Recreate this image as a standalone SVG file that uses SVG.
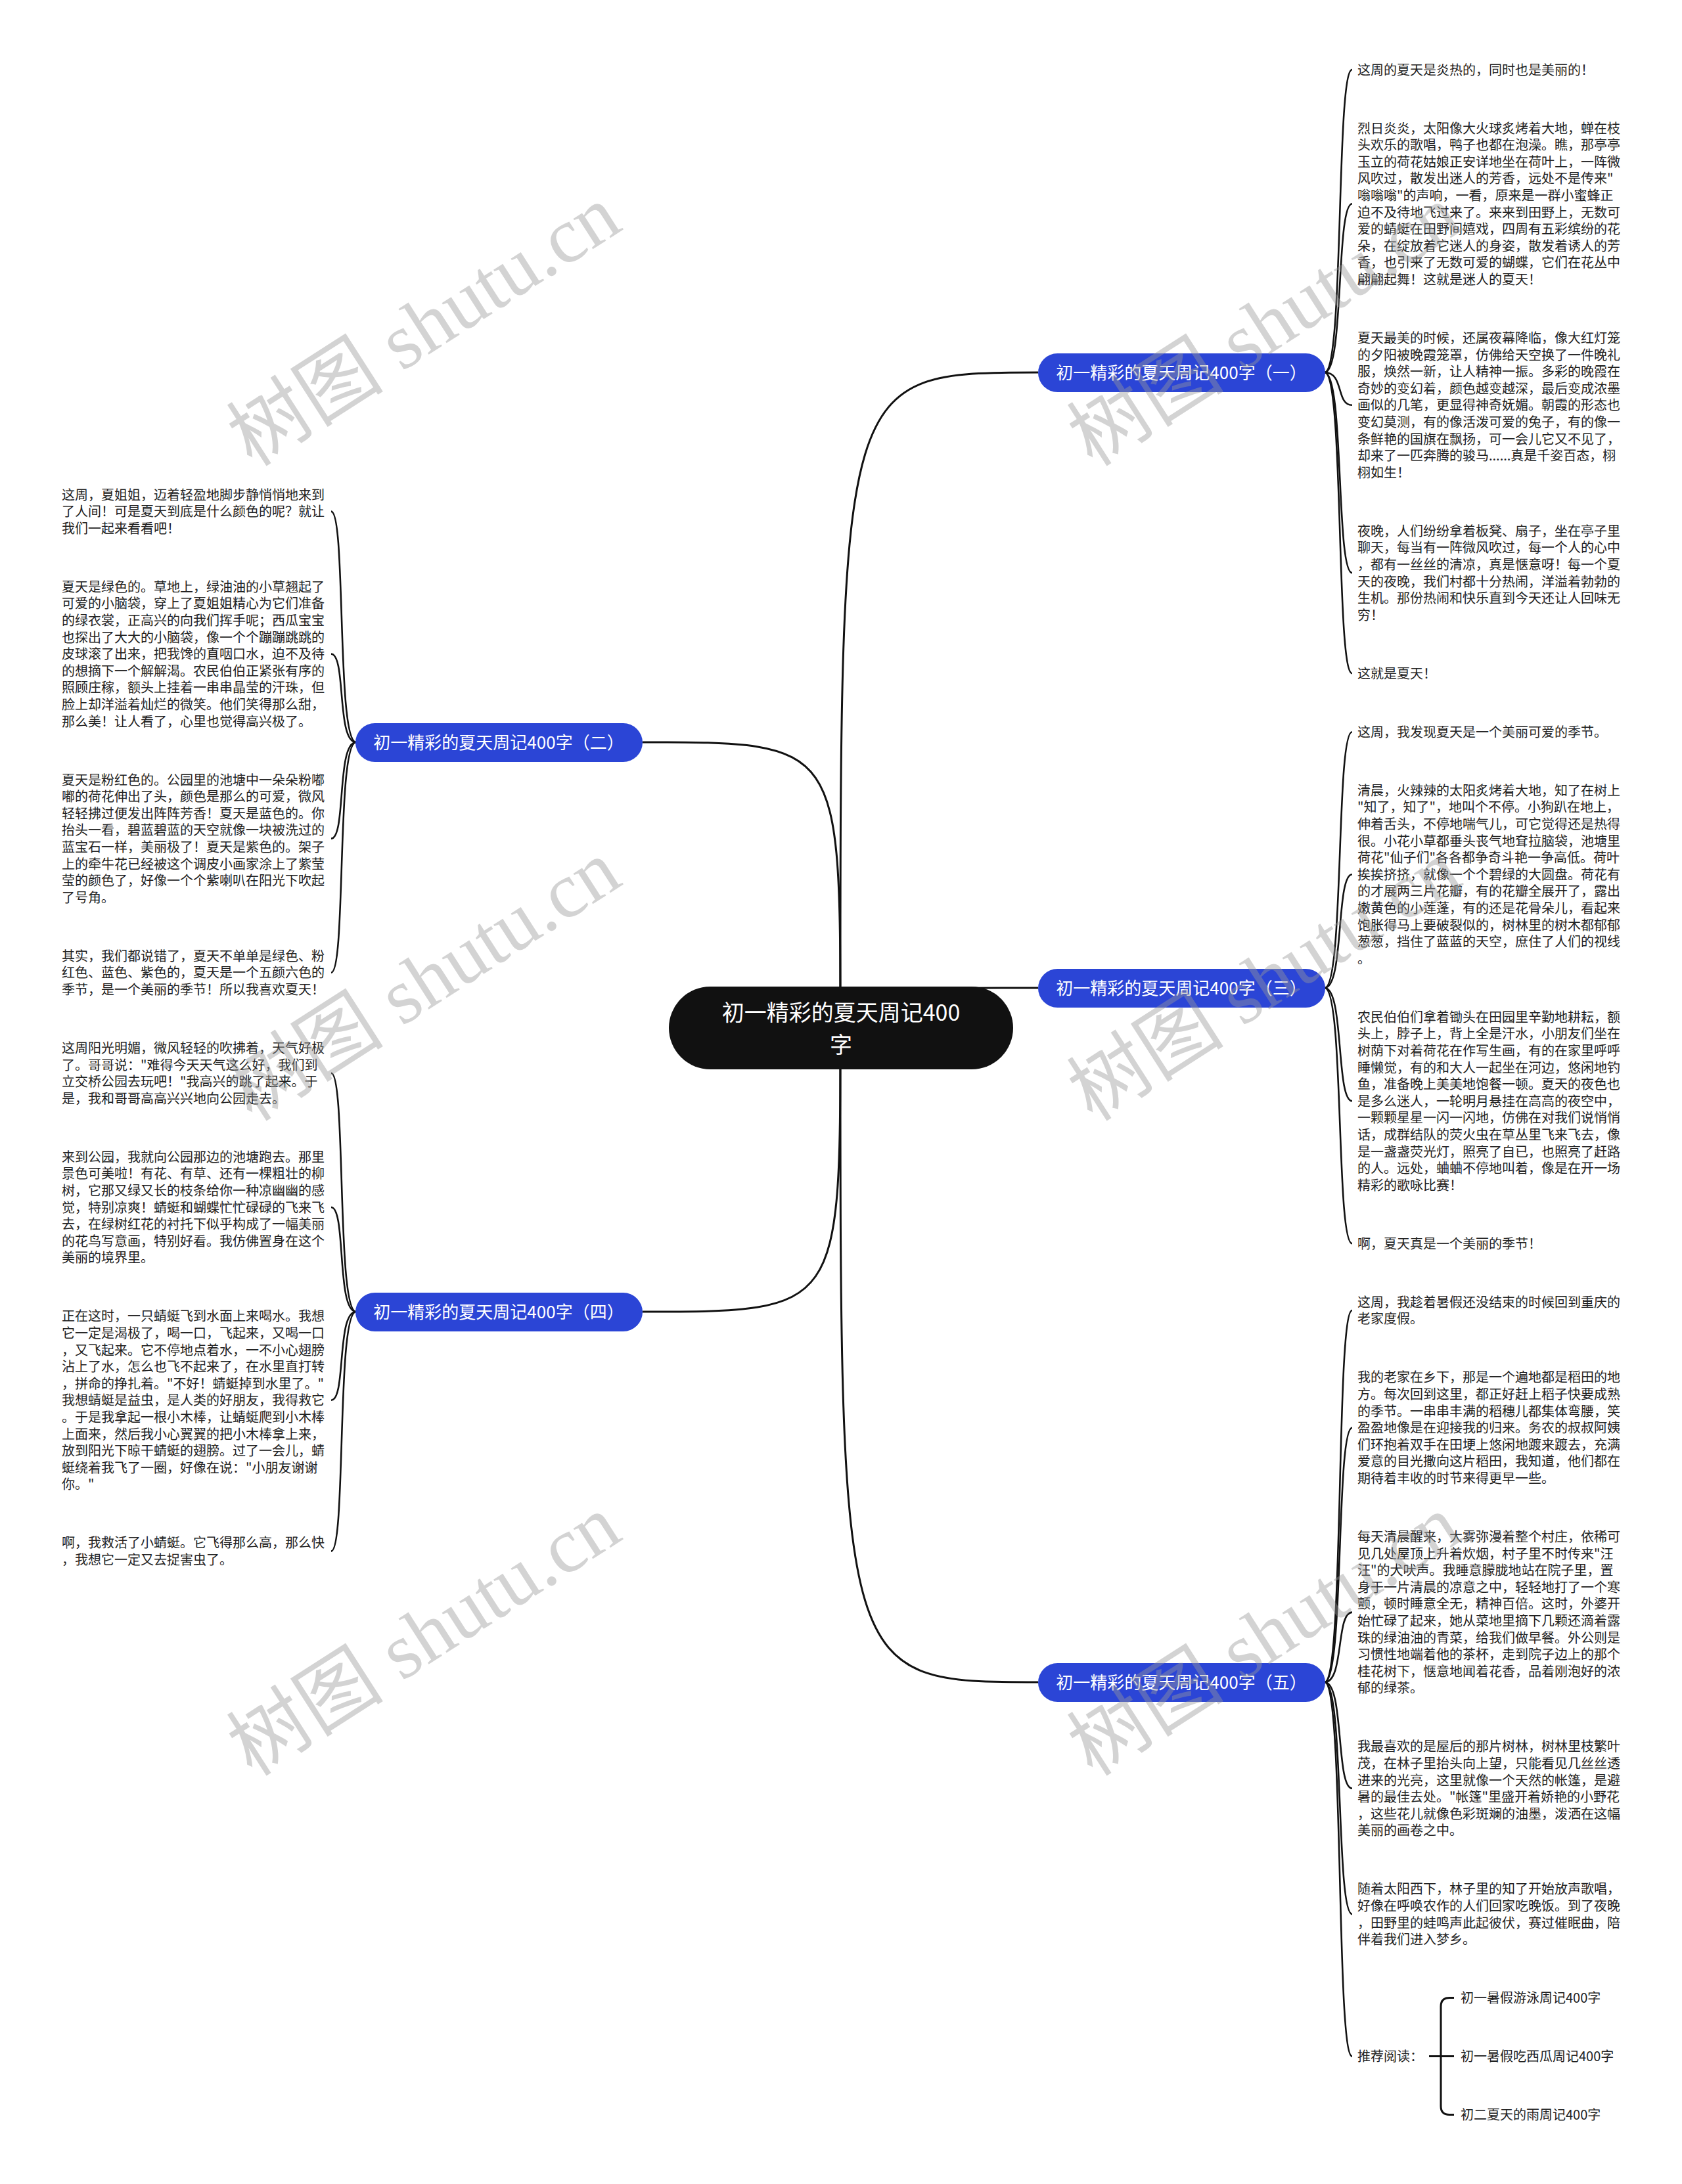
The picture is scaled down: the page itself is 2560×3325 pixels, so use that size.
<svg xmlns="http://www.w3.org/2000/svg" width="2560" height="3325" viewBox="0 0 2560 3325">
<style>
.t{font-family:"Noto Sans CJK SC","Noto Sans",sans-serif;font-size:20px;fill:#222}
.bn{fill:#2b45d6}
.bt{font-family:"Noto Sans CJK SC","Noto Sans",sans-serif;font-size:26px;fill:#fff;text-anchor:middle}
.ct{font-family:"Noto Sans CJK SC","Noto Sans",sans-serif;font-size:34px;fill:#fff;text-anchor:middle}
.ln{fill:none;stroke:#111;stroke-width:3}
.cl{fill:none;stroke:#111;stroke-width:2.6}
.wm{font-family:"Liberation Serif","Noto Sans CJK SC",serif;font-size:120px;fill:#999;opacity:0.42}
</style>
<rect width="2560" height="3325" fill="#fff"/>
<g id="connectors">
<path class="ln" d="M1279 1565 C1279 567 1279 567 1580 567"/>
<path class="ln" d="M1279 1565 C1279 1504 1279 1504 1580 1504"/>
<path class="ln" d="M1279 1565 C1279 2561 1279 2561 1580 2561"/>
<path class="ln" d="M1279 1565 C1279 1130 1279 1130 978 1130"/>
<path class="ln" d="M1279 1565 C1279 1997 1279 1997 978 1997"/>
<path class="cl" d="M2016 567 C2046 567 2033 106 2058 106"/>
<path class="cl" d="M2016 567 C2046 567 2033 310.2 2058 310.2"/>
<path class="cl" d="M2016 567 C2046 567 2033 616.8 2058 616.8"/>
<path class="cl" d="M2016 567 C2046 567 2033 872.2 2058 872.2"/>
<path class="cl" d="M2016 567 C2046 567 2033 1025.2 2058 1025.2"/>
<path class="cl" d="M2016 1504 C2046 1504 2033 1114.2 2058 1114.2"/>
<path class="cl" d="M2016 1504 C2046 1504 2033 1331.2 2058 1331.2"/>
<path class="cl" d="M2016 1504 C2046 1504 2033 1676.2 2058 1676.2"/>
<path class="cl" d="M2016 1504 C2046 1504 2033 1893.2 2058 1893.2"/>
<path class="cl" d="M2016 2561 C2046 2561 2033 1995 2058 1995"/>
<path class="cl" d="M2016 2561 C2046 2561 2033 2173.6 2058 2173.6"/>
<path class="cl" d="M2016 2561 C2046 2561 2033 2454.6 2058 2454.6"/>
<path class="cl" d="M2016 2561 C2046 2561 2033 2722.8 2058 2722.8"/>
<path class="cl" d="M2016 2561 C2046 2561 2033 2914.2 2058 2914.2"/>
<path class="cl" d="M2016 2561 C2046 2561 2033 3130.6 2058 3130.6"/>
<path class="cl" d="M542 1130 C512 1130 527 778.6 504 778.6"/>
<path class="cl" d="M542 1130 C512 1130 527 995.6 504 995.6"/>
<path class="cl" d="M542 1130 C512 1130 527 1276.6 504 1276.6"/>
<path class="cl" d="M542 1130 C512 1130 527 1480.8 504 1480.8"/>
<path class="cl" d="M542 1997 C512 1997 527 1633.8 504 1633.8"/>
<path class="cl" d="M542 1997 C512 1997 527 1838 504 1838"/>
<path class="cl" d="M542 1997 C512 1997 527 2131.8 504 2131.8"/>
<path class="cl" d="M542 1997 C512 1997 527 2361.6 504 2361.6"/>
<path class="ln" d="M2175 3130.6 H2213"/>
<path class="ln" d="M2193 3130.6 V3054.6 Q2193 3041.6 2206 3041.6 H2213"/>
<path class="ln" d="M2193 3130.6 V3206.6 Q2193 3219.6 2206 3219.6 H2213"/>
</g>
<g id="root">
<rect x="1018" y="1502" width="524" height="126" rx="63" fill="#111"/>
<text class="ct" x="1280" y="1554">初一精彩的夏天周记400</text>
<text class="ct" x="1280" y="1603">字</text>
</g>
<g id="b1"><rect class="bn" x="1580" y="538" width="437" height="59" rx="29.5"/><text class="bt" x="1798" y="577">初一精彩的夏天周记400字（一）</text></g>
<g id="b3"><rect class="bn" x="1580" y="1475" width="437" height="59" rx="29.5"/><text class="bt" x="1798" y="1514">初一精彩的夏天周记400字（三）</text></g>
<g id="b5"><rect class="bn" x="1580" y="2532" width="437" height="59" rx="29.5"/><text class="bt" x="1798" y="2571">初一精彩的夏天周记400字（五）</text></g>
<g id="b2"><rect class="bn" x="541" y="1101" width="437" height="59" rx="29.5"/><text class="bt" x="759" y="1140">初一精彩的夏天周记400字（二）</text></g>
<g id="b4"><rect class="bn" x="541" y="1968" width="437" height="59" rx="29.5"/><text class="bt" x="759" y="2007">初一精彩的夏天周记400字（四）</text></g>

<g id="b1-p1"><text class="t" x="2066" y="113.6">这周的夏天是炎热的，同时也是美丽的！</text></g>
<g id="b1-p2"><text class="t" x="2066" y="202.6"><tspan x="2066" dy="0">烈日炎炎，太阳像大火球炙烤着大地，蝉在枝</tspan><tspan x="2066" dy="25.6">头欢乐的歌唱，鸭子也都在泡澡。瞧，那亭亭</tspan><tspan x="2066" dy="25.6">玉立的荷花姑娘正安详地坐在荷叶上，一阵微</tspan><tspan x="2066" dy="25.6">风吹过，散发出迷人的芳香，远处不是传来"</tspan><tspan x="2066" dy="25.6">嗡嗡嗡"的声响，一看，原来是一群小蜜蜂正</tspan><tspan x="2066" dy="25.6">迫不及待地飞过来了。来来到田野上，无数可</tspan><tspan x="2066" dy="25.6">爱的蜻蜓在田野间嬉戏，四周有五彩缤纷的花</tspan><tspan x="2066" dy="25.6">朵，在绽放着它迷人的身姿，散发着诱人的芳</tspan><tspan x="2066" dy="25.6">香，也引来了无数可爱的蝴蝶，它们在花丛中</tspan><tspan x="2066" dy="25.6">翩翩起舞！这就是迷人的夏天！</tspan></text></g>
<g id="b1-p3"><text class="t" x="2066" y="522"><tspan x="2066" dy="0">夏天最美的时候，还属夜幕降临，像大红灯笼</tspan><tspan x="2066" dy="25.6">的夕阳被晚霞笼罩，仿佛给天空换了一件晚礼</tspan><tspan x="2066" dy="25.6">服，焕然一新，让人精神一振。多彩的晚霞在</tspan><tspan x="2066" dy="25.6">奇妙的变幻着，颜色越变越深，最后变成浓墨</tspan><tspan x="2066" dy="25.6">画似的几笔，更显得神奇妩媚。朝霞的形态也</tspan><tspan x="2066" dy="25.6">变幻莫测，有的像活泼可爱的兔子，有的像一</tspan><tspan x="2066" dy="25.6">条鲜艳的国旗在飘扬，可一会儿它又不见了，</tspan><tspan x="2066" dy="25.6">却来了一匹奔腾的骏马......真是千姿百态，栩</tspan><tspan x="2066" dy="25.6">栩如生！</tspan></text></g>
<g id="b1-p4"><text class="t" x="2066" y="815.8"><tspan x="2066" dy="0">夜晚，人们纷纷拿着板凳、扇子，坐在亭子里</tspan><tspan x="2066" dy="25.6">聊天，每当有一阵微风吹过，每一个人的心中</tspan><tspan x="2066" dy="25.6">，都有一丝丝的清凉，真是惬意呀！每一个夏</tspan><tspan x="2066" dy="25.6">天的夜晚，我们村都十分热闹，洋溢着勃勃的</tspan><tspan x="2066" dy="25.6">生机。那份热闹和快乐直到今天还让人回味无</tspan><tspan x="2066" dy="25.6">穷！</tspan></text></g>
<g id="b1-p5"><text class="t" x="2066" y="1032.8">这就是夏天！</text></g>

<g id="b3-p1"><text class="t" x="2066" y="1121.8">这周，我发现夏天是一个美丽可爱的季节。</text></g>
<g id="b3-p2"><text class="t" x="2066" y="1210.8"><tspan x="2066" dy="0">清晨，火辣辣的太阳炙烤着大地，知了在树上</tspan><tspan x="2066" dy="25.6">"知了，知了"，地叫个不停。小狗趴在地上，</tspan><tspan x="2066" dy="25.6">伸着舌头，不停地喘气儿，可它觉得还是热得</tspan><tspan x="2066" dy="25.6">很。小花小草都垂头丧气地耷拉脑袋，池塘里</tspan><tspan x="2066" dy="25.6">荷花"仙子们"各各都争奇斗艳一争高低。荷叶</tspan><tspan x="2066" dy="25.6">挨挨挤挤，就像一个个碧绿的大圆盘。荷花有</tspan><tspan x="2066" dy="25.6">的才展两三片花瓣，有的花瓣全展开了，露出</tspan><tspan x="2066" dy="25.6">嫩黄色的小莲蓬，有的还是花骨朵儿，看起来</tspan><tspan x="2066" dy="25.6">饱胀得马上要破裂似的，树林里的树木都郁郁</tspan><tspan x="2066" dy="25.6">葱葱，挡住了蓝蓝的天空，庶住了人们的视线</tspan><tspan x="2066" dy="25.6">。</tspan></text></g>
<g id="b3-p3"><text class="t" x="2066" y="1555.8"><tspan x="2066" dy="0">农民伯伯们拿着锄头在田园里辛勤地耕耘，额</tspan><tspan x="2066" dy="25.6">头上，脖子上，背上全是汗水，小朋友们坐在</tspan><tspan x="2066" dy="25.6">树荫下对着荷花在作写生画，有的在家里呼呼</tspan><tspan x="2066" dy="25.6">睡懒觉，有的和大人一起坐在河边，悠闲地钓</tspan><tspan x="2066" dy="25.6">鱼，准备晚上美美地饱餐一顿。夏天的夜色也</tspan><tspan x="2066" dy="25.6">是多么迷人，一轮明月悬挂在高高的夜空中，</tspan><tspan x="2066" dy="25.6">一颗颗星星一闪一闪地，仿佛在对我们说悄悄</tspan><tspan x="2066" dy="25.6">话，成群结队的荧火虫在草丛里飞来飞去，像</tspan><tspan x="2066" dy="25.6">是一盏盏荧光灯，照亮了自已，也照亮了赶路</tspan><tspan x="2066" dy="25.6">的人。远处，蛐蛐不停地叫着，像是在开一场</tspan><tspan x="2066" dy="25.6">精彩的歌咏比赛！</tspan></text></g>
<g id="b3-p4"><text class="t" x="2066" y="1900.8">啊，夏天真是一个美丽的季节！</text></g>

<g id="b5-p1"><text class="t" x="2066" y="1989.8"><tspan x="2066" dy="0">这周，我趁着暑假还没结束的时候回到重庆的</tspan><tspan x="2066" dy="25.6">老家度假。</tspan></text></g>
<g id="b5-p2"><text class="t" x="2066" y="2104.4"><tspan x="2066" dy="0">我的老家在乡下，那是一个遍地都是稻田的地</tspan><tspan x="2066" dy="25.6">方。每次回到这里，都正好赶上稻子快要成熟</tspan><tspan x="2066" dy="25.6">的季节。一串串丰满的稻穗儿都集体弯腰，笑</tspan><tspan x="2066" dy="25.6">盈盈地像是在迎接我的归来。务农的叔叔阿姨</tspan><tspan x="2066" dy="25.6">们环抱着双手在田埂上悠闲地踱来踱去，充满</tspan><tspan x="2066" dy="25.6">爱意的目光撒向这片稻田，我知道，他们都在</tspan><tspan x="2066" dy="25.6">期待着丰收的时节来得更早一些。</tspan></text></g>
<g id="b5-p3"><text class="t" x="2066" y="2347"><tspan x="2066" dy="0">每天清晨醒来，大雾弥漫着整个村庄，依稀可</tspan><tspan x="2066" dy="25.6">见几处屋顶上升着炊烟，村子里不时传来"汪</tspan><tspan x="2066" dy="25.6">汪"的犬吠声。我睡意朦胧地站在院子里，置</tspan><tspan x="2066" dy="25.6">身于一片清晨的凉意之中，轻轻地打了一个寒</tspan><tspan x="2066" dy="25.6">颤，顿时睡意全无，精神百倍。这时，外婆开</tspan><tspan x="2066" dy="25.6">始忙碌了起来，她从菜地里摘下几颗还滴着露</tspan><tspan x="2066" dy="25.6">珠的绿油油的青菜，给我们做早餐。外公则是</tspan><tspan x="2066" dy="25.6">习惯性地端着他的茶杯，走到院子边上的那个</tspan><tspan x="2066" dy="25.6">桂花树下，惬意地闻着花香，品着刚泡好的浓</tspan><tspan x="2066" dy="25.6">郁的绿茶。</tspan></text></g>
<g id="b5-p4"><text class="t" x="2066" y="2666.4"><tspan x="2066" dy="0">我最喜欢的是屋后的那片树林，树林里枝繁叶</tspan><tspan x="2066" dy="25.6">茂，在林子里抬头向上望，只能看见几丝丝透</tspan><tspan x="2066" dy="25.6">进来的光亮，这里就像一个天然的帐篷，是避</tspan><tspan x="2066" dy="25.6">暑的最佳去处。"帐篷"里盛开着娇艳的小野花</tspan><tspan x="2066" dy="25.6">，这些花儿就像色彩斑斓的油墨，泼洒在这幅</tspan><tspan x="2066" dy="25.6">美丽的画卷之中。</tspan></text></g>
<g id="b5-p5"><text class="t" x="2066" y="2883.4"><tspan x="2066" dy="0">随着太阳西下，林子里的知了开始放声歌唱，</tspan><tspan x="2066" dy="25.6">好像在呼唤农作的人们回家吃晚饭。到了夜晚</tspan><tspan x="2066" dy="25.6">，田野里的蛙鸣声此起彼伏，赛过催眠曲，陪</tspan><tspan x="2066" dy="25.6">伴着我们进入梦乡。</tspan></text></g>
<g id="b5-p6"><text class="t" x="2066" y="3138.2">推荐阅读：</text></g>
<g id="r1"><text class="t" x="2223" y="3049.2">初一暑假游泳周记400字</text></g>
<g id="r2"><text class="t" x="2223" y="3138.2">初一暑假吃西瓜周记400字</text></g>
<g id="r3"><text class="t" x="2223" y="3227.2">初二夏天的雨周记400字</text></g>

<g id="b2-p1"><text class="t" x="94" y="760.6"><tspan x="94" dy="0">这周，夏姐姐，迈着轻盈地脚步静悄悄地来到</tspan><tspan x="94" dy="25.6">了人间！可是夏天到底是什么颜色的呢？就让</tspan><tspan x="94" dy="25.6">我们一起来看看吧！</tspan></text></g>
<g id="b2-p2"><text class="t" x="94" y="900.8"><tspan x="94" dy="0">夏天是绿色的。草地上，绿油油的小草翘起了</tspan><tspan x="94" dy="25.6">可爱的小脑袋，穿上了夏姐姐精心为它们准备</tspan><tspan x="94" dy="25.6">的绿衣裳，正高兴的向我们挥手呢；西瓜宝宝</tspan><tspan x="94" dy="25.6">也探出了大大的小脑袋，像一个个蹦蹦跳跳的</tspan><tspan x="94" dy="25.6">皮球滚了出来，把我馋的直咽口水，迫不及待</tspan><tspan x="94" dy="25.6">的想摘下一个解解渴。农民伯伯正紧张有序的</tspan><tspan x="94" dy="25.6">照顾庄稼，额头上挂着一串串晶莹的汗珠，但</tspan><tspan x="94" dy="25.6">脸上却洋溢着灿烂的微笑。他们笑得那么甜，</tspan><tspan x="94" dy="25.6">那么美！让人看了，心里也觉得高兴极了。</tspan></text></g>
<g id="b2-p3"><text class="t" x="94" y="1194.6"><tspan x="94" dy="0">夏天是粉红色的。公园里的池塘中一朵朵粉嘟</tspan><tspan x="94" dy="25.6">嘟的荷花伸出了头，颜色是那么的可爱，微风</tspan><tspan x="94" dy="25.6">轻轻拂过便发出阵阵芳香！夏天是蓝色的。你</tspan><tspan x="94" dy="25.6">抬头一看，碧蓝碧蓝的天空就像一块被洗过的</tspan><tspan x="94" dy="25.6">蓝宝石一样，美丽极了！夏天是紫色的。架子</tspan><tspan x="94" dy="25.6">上的牵牛花已经被这个调皮小画家涂上了紫莹</tspan><tspan x="94" dy="25.6">莹的颜色了，好像一个个紫喇叭在阳光下吹起</tspan><tspan x="94" dy="25.6">了号角。</tspan></text></g>
<g id="b2-p4"><text class="t" x="94" y="1462.8"><tspan x="94" dy="0">其实，我们都说错了，夏天不单单是绿色、粉</tspan><tspan x="94" dy="25.6">红色、蓝色、紫色的，夏天是一个五颜六色的</tspan><tspan x="94" dy="25.6">季节，是一个美丽的季节！所以我喜欢夏天！</tspan></text></g>

<g id="b4-p1"><text class="t" x="94" y="1603"><tspan x="94" dy="0">这周阳光明媚，微风轻轻的吹拂着，天气好极</tspan><tspan x="94" dy="25.6">了。哥哥说："难得今天天气这么好，我们到</tspan><tspan x="94" dy="25.6">立交桥公园去玩吧！"我高兴的跳了起来。于</tspan><tspan x="94" dy="25.6">是，我和哥哥高高兴兴地向公园走去。</tspan></text></g>
<g id="b4-p2"><text class="t" x="94" y="1768.8"><tspan x="94" dy="0">来到公园，我就向公园那边的池塘跑去。那里</tspan><tspan x="94" dy="25.6">景色可美啦！有花、有草、还有一棵粗壮的柳</tspan><tspan x="94" dy="25.6">树，它那又绿又长的枝条给你一种凉幽幽的感</tspan><tspan x="94" dy="25.6">觉，特别凉爽！蜻蜓和蝴蝶忙忙碌碌的飞来飞</tspan><tspan x="94" dy="25.6">去，在绿树红花的衬托下似乎构成了一幅美丽</tspan><tspan x="94" dy="25.6">的花鸟写意画，特别好看。我仿佛置身在这个</tspan><tspan x="94" dy="25.6">美丽的境界里。</tspan></text></g>
<g id="b4-p3"><text class="t" x="94" y="2011.4"><tspan x="94" dy="0">正在这时，一只蜻蜓飞到水面上来喝水。我想</tspan><tspan x="94" dy="25.6">它一定是渴极了，喝一口，飞起来，又喝一口</tspan><tspan x="94" dy="25.6">，又飞起来。它不停地点着水，一不小心翅膀</tspan><tspan x="94" dy="25.6">沾上了水，怎么也飞不起来了，在水里直打转</tspan><tspan x="94" dy="25.6">，拼命的挣扎着。"不好！蜻蜓掉到水里了。"</tspan><tspan x="94" dy="25.6">我想蜻蜓是益虫，是人类的好朋友，我得救它</tspan><tspan x="94" dy="25.6">。于是我拿起一根小木棒，让蜻蜓爬到小木棒</tspan><tspan x="94" dy="25.6">上面来，然后我小心翼翼的把小木棒拿上来，</tspan><tspan x="94" dy="25.6">放到阳光下晾干蜻蜓的翅膀。过了一会儿，蜻</tspan><tspan x="94" dy="25.6">蜓绕着我飞了一圈，好像在说："小朋友谢谢</tspan><tspan x="94" dy="25.6">你。"</tspan></text></g>
<g id="b4-p4"><text class="t" x="94" y="2356.4"><tspan x="94" dy="0">啊，我救活了小蜻蜓。它飞得那么高，那么快</tspan><tspan x="94" dy="25.6">，我想它一定又去捉害虫了。</tspan></text></g>

<g id="watermarks">
<text class="wm" x="384" y="712" transform="rotate(-32.7 384 712)">树图 shutu.cn</text>
<text class="wm" x="384" y="1709" transform="rotate(-32.7 384 1709)">树图 shutu.cn</text>
<text class="wm" x="384" y="2706" transform="rotate(-32.7 384 2706)">树图 shutu.cn</text>
<text class="wm" x="1663" y="712" transform="rotate(-32.7 1663 712)">树图 shutu.cn</text>
<text class="wm" x="1663" y="1709" transform="rotate(-32.7 1663 1709)">树图 shutu.cn</text>
<text class="wm" x="1663" y="2706" transform="rotate(-32.7 1663 2706)">树图 shutu.cn</text>
</g>
</svg>
